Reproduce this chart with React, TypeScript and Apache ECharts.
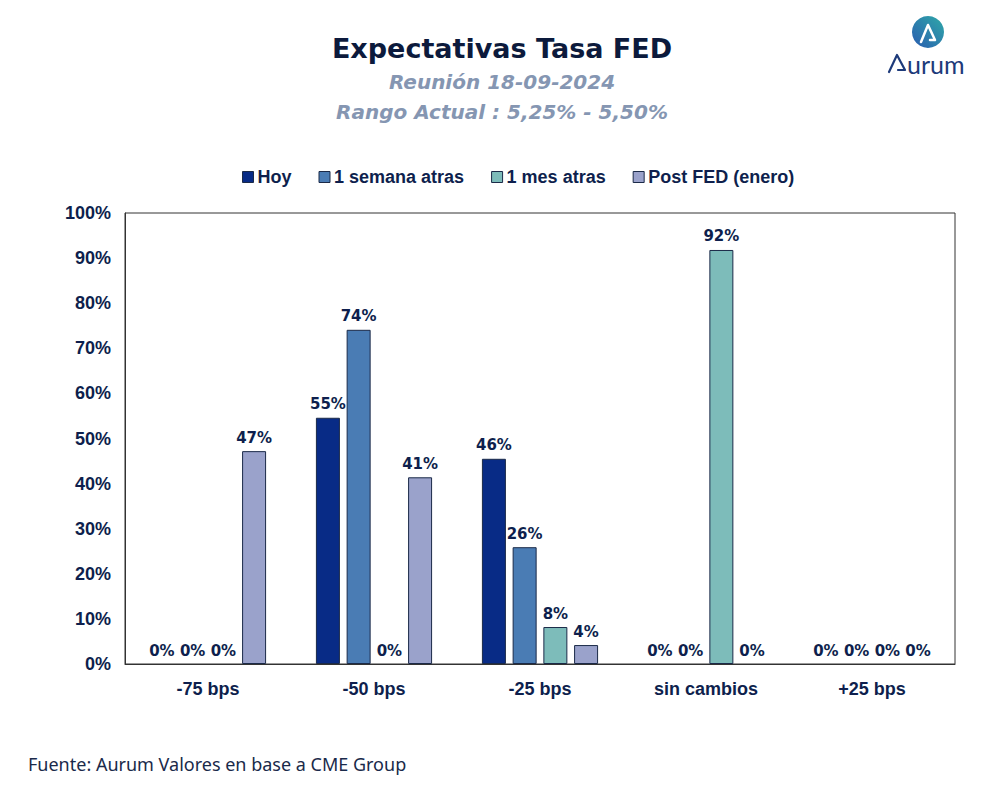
import React, { useEffect, useRef } from "react";
import * as echarts from "echarts";

const categories = ["-75 bps", "-50 bps", "-25 bps", "sin cambios", "+25 bps"];
const seriesNames = ["Hoy", "1 semana atras", "1 mes atras", "Post FED (enero)"];
const hoy = [0, 54.6, 45.5, 0, 0];
const unaSemana = [0, 74.1, 25.9, 0, 0];
const unMes = [0, 0, 8.2, 91.8, 0];
const postFed = [47.2, 41.4, 4.2, 0, 0];
const colors = ["#082b86", "#4a7cb4", "#7dbcba", "#9aa2cb"];
const yTicks = [0, 100, 10];

export default function App() {
  const ref = useRef<HTMLDivElement>(null);
  useEffect(() => {
    if (!ref.current) return;
    const chart = echarts.init(ref.current, undefined, { renderer: "svg" });
    const data = [hoy, unaSemana, unMes, postFed];
    const labelColor = "#0e1f4d";
    chart.setOption({
      animation: false,
      backgroundColor: "#ffffff",
      title: [
        {
          text: "Expectativas Tasa FED",
          left: 497,
          top: 30,
          textAlign: "center",
          textStyle: { fontFamily: "DejaVu Sans", fontWeight: "bold", fontSize: 27, color: "#0c1a3c" },
        },
        {
          text: "Reunión 18-09-2024",
          left: 497,
          top: 67,
          textAlign: "center",
          textStyle: { fontFamily: "DejaVu Sans", fontWeight: "bold", fontStyle: "italic", fontSize: 20, color: "#8596b2" },
        },
        {
          text: "Rango Actual : 5,25% - 5,50%",
          left: 497,
          top: 97,
          textAlign: "center",
          textStyle: { fontFamily: "DejaVu Sans", fontWeight: "bold", fontStyle: "italic", fontSize: 20, color: "#8596b2" },
        },
      ],
      legend: {
        top: 163,
        left: 237,
        icon: "rect",
        itemWidth: 11,
        itemHeight: 11,
        itemGap: 27,
        data: seriesNames.map((n, i) => ({ name: n, itemStyle: { color: colors[i], borderColor: "#1b2a48", borderWidth: 1 } })),
        textStyle: { fontFamily: "Liberation Sans", fontWeight: "bold", fontSize: 18, color: "#0e1f4d", padding: [0, 0, 0, -1] },
      },
      grid: { left: 125, right: 31, top: 213, bottom: 143, show: true, borderColor: "#333", borderWidth: 1 },
      xAxis: {
        type: "category",
        data: categories,
        axisTick: { show: false },
        axisLine: { lineStyle: { color: "#333" } },
        axisLabel: { fontFamily: "Liberation Sans", fontWeight: "bold", fontSize: 18, color: "#0e1f4d", margin: 16 },
      },
      yAxis: {
        type: "value",
        min: yTicks[0],
        max: yTicks[1],
        interval: yTicks[2],
        splitLine: { show: false },
        axisLine: { show: true, lineStyle: { color: "#333" } },
        axisTick: { show: false },
        axisLabel: { formatter: "{value}%", fontFamily: "Liberation Sans", fontWeight: "bold", fontSize: 18, color: "#0e1f4d", margin: 14 },
      },
      series: seriesNames.map((name, i) => ({
        name,
        type: "bar",
        data: data[i].map((v) => ({ value: v, itemStyle: v === 0 ? { borderWidth: 0 } : {} })),
        barWidth: 24,
        barGap: "28%",
        itemStyle: { color: colors[i], borderColor: "#1b2a48", borderWidth: 1 },
        label: {
          show: true,
          position: "top",
          distance: 6,
          formatter: (p: any) => Math.round(p.value) + "%",
          fontFamily: "DejaVu Sans",
          fontWeight: "bold",
          fontSize: 15,
          color: labelColor,
        },
      })),
      graphic: [
        {
          type: "circle",
          shape: { cx: 928, cy: 32, r: 16 },
          style: {
            fill: new echarts.graphic.LinearGradient(0, 1, 1, 0, [
              { offset: 0, color: "#2a5cb0" },
              { offset: 1, color: "#2fa9a8" },
            ]),
          },
        },
        {
          type: "polyline",
          shape: { points: [[921, 42], [928, 25], [935, 40], [930, 40]] },
          style: { stroke: "#ffffff", lineWidth: 2.5, fill: "none", lineJoin: "round", lineCap: "round" },
        },
        {
          type: "polyline",
          shape: { points: [[889, 72], [897, 55], [905, 70], [898, 70]] },
          style: { stroke: "#1d3a7a", lineWidth: 2.2, fill: "none", lineJoin: "round", lineCap: "round" },
        },
        {
          type: "text",
          x: 907,
          y: 51,
          style: { text: "urum", fontFamily: "Lato", fontSize: 25, fill: "#1d3a7a" },
        },
        {
          type: "text",
          x: 28,
          y: 755,
          style: { text: "Fuente: Aurum Valores en base a CME Group", fontFamily: "Noto Sans", fontSize: 18, fill: "#1a2a4a" },
        },
      ],
    });
    return () => chart.dispose();
  }, []);
  return <div ref={ref} style={{ width: 986, height: 807, position: "absolute", left: 0, top: 0 }} />;
}
